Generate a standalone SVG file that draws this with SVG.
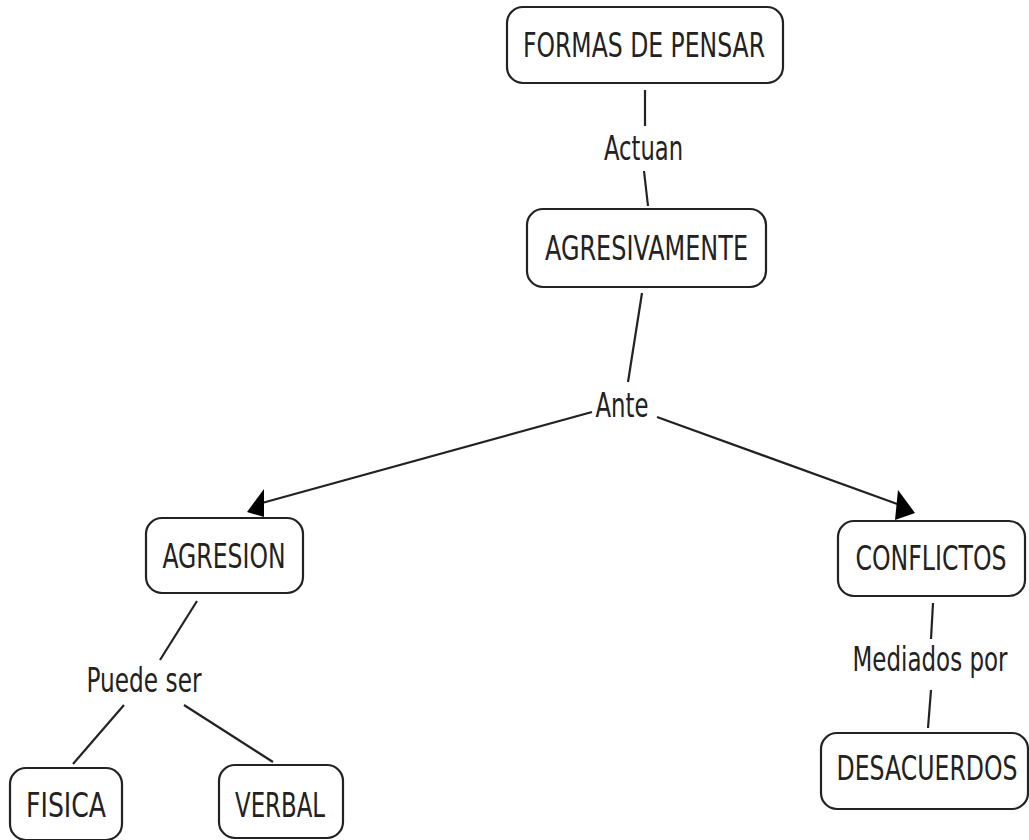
<svg xmlns="http://www.w3.org/2000/svg" width="1029" height="840" viewBox="0 0 1029 840">
<style>
.box{fill:#fff;stroke:#222;stroke-width:2.2}
.t{font-family:"DejaVu Sans Condensed","DejaVu Sans",Verdana,sans-serif;font-stretch:condensed;font-size:33px;fill:#222;text-anchor:middle}
.c line{stroke:#222;stroke-width:2.2}
.c polygon{fill:#000}
</style>
<rect width="1029" height="840" fill="#fff"/>
<g class="c" id="connectors">
<line x1="645" y1="90" x2="645" y2="126"/>
<line x1="644" y1="171" x2="648" y2="206"/>
<line x1="642" y1="293" x2="628" y2="382"/>
<line x1="592" y1="412" x2="262" y2="503"/>
<polygon points="247,512 264,489 264,517"/>
<line x1="657" y1="417" x2="900" y2="505"/>
<polygon points="898,490 915,513 895,520"/>
<line x1="197" y1="601" x2="160" y2="660"/>
<line x1="124" y1="705" x2="73" y2="764"/>
<line x1="184" y1="705" x2="273" y2="762"/>
<line x1="933" y1="603" x2="931" y2="639"/>
<line x1="931" y1="690" x2="928" y2="728"/>
</g>
<g id="formas"><rect class="box" x="507" y="7" width="276" height="76" rx="16"/><text class="t" transform="translate(644 57) scale(0.8 1)" textLength="302.5" lengthAdjust="spacingAndGlyphs">FORMAS DE PENSAR</text></g>
<g id="actuan"><text class="t" transform="translate(643.5 160) scale(0.8 1)" textLength="98.75" lengthAdjust="spacingAndGlyphs">Actuan</text></g>
<g id="agresivamente"><rect class="box" x="527" y="209" width="239" height="78" rx="16"/><text class="t" transform="translate(646.5 260) scale(0.8 1)" textLength="253.75" lengthAdjust="spacingAndGlyphs">AGRESIVAMENTE</text></g>
<g id="ante"><text class="t" transform="translate(622 417) scale(0.8 1)" textLength="66.25" lengthAdjust="spacingAndGlyphs">Ante</text></g>
<g id="agresion"><rect class="box" x="146" y="518" width="157" height="75" rx="16"/><text class="t" transform="translate(224 568) scale(0.8 1)" textLength="153.75" lengthAdjust="spacingAndGlyphs">AGRESION</text></g>
<g id="conflictos"><rect class="box" x="838" y="521" width="187" height="75" rx="16"/><text class="t" transform="translate(931 570) scale(0.8 1)" textLength="188.75" lengthAdjust="spacingAndGlyphs">CONFLICTOS</text></g>
<g id="puedeser"><text class="t" transform="translate(144 692) scale(0.8 1)" textLength="143.75" lengthAdjust="spacingAndGlyphs">Puede ser</text></g>
<g id="mediados"><text class="t" transform="translate(930 671) scale(0.8 1)" textLength="193.75" lengthAdjust="spacingAndGlyphs">Mediados por</text></g>
<g id="fisica"><rect class="box" x="10" y="768" width="112" height="72" rx="16"/><text class="t" transform="translate(66 817) scale(0.8 1)" textLength="100" lengthAdjust="spacingAndGlyphs">FISICA</text></g>
<g id="verbal"><rect class="box" x="219" y="765" width="124" height="73" rx="16"/><text class="t" transform="translate(280 817) scale(0.8 1)" textLength="112.5" lengthAdjust="spacingAndGlyphs">VERBAL</text></g>
<g id="desacuerdos"><rect class="box" x="821" y="733" width="207" height="76" rx="16"/><text class="t" transform="translate(927 780) scale(0.8 1)" textLength="226.25" lengthAdjust="spacingAndGlyphs">DESACUERDOS</text></g>
</svg>
